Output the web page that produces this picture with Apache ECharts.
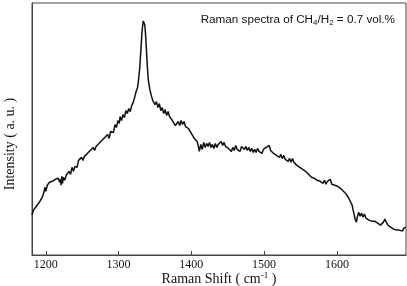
<!DOCTYPE html>
<html>
<head>
<meta charset="utf-8">
<script src="https://cdn.jsdelivr.net/npm/echarts@6/dist/echarts.min.js"></script>
<style>
  html, body { margin: 0; padding: 0; background: #fff; }
  #chart { width: 407px; height: 286px; }
</style>
</head>
<body>
<div id="chart"></div>
<script>
// Raman shift (cm-1)
var shift = [
  1181,1183,1184,1186,1187,1189,1190,1192,1194,1195,
  1197,1198,1199,1200,1202,1203,1205,1207,1209,1211,
  1213,1215,1217,1219,1220,1221,1222,1223,1224,1226,
  1228,1230,1232,1234,1236,1238,1240,1242,1243,1245,
  1247,1249,1251,1253,1255,1257,1259,1261,1263,1265,
  1267,1269,1271,1273,1275,1277,1279,1281,1283,1285,
  1287,1289,1291,1293,1295,1297,1299,1301,1302,1304,
  1306,1308,1310,1312,1314,1316,1318,1320,1322,1324,
  1326,1327,1329,1331,1332,1333,1334,1335,1336,1337,
  1338,1339,1340,1341,1343,1345,1347,1349,1350,1352,
  1354,1356,1358,1360,1362,1364,1366,1368,1370,1372,
  1374,1376,1378,1380,1382,1384,1386,1388,1390,1392,
  1394,1396,1398,1400,1402,1404,1406,1408,1410,1411,
  1413,1415,1417,1419,1421,1423,1425,1427,1429,1431,
  1433,1435,1437,1439,1441,1443,1445,1447,1449,1451,
  1453,1455,1457,1459,1461,1463,1465,1467,1469,1471,
  1473,1475,1477,1479,1481,1483,1485,1487,1489,1491,
  1493,1495,1497,1499,1501,1503,1505,1507,1509,1511,
  1513,1515,1517,1519,1521,1523,1525,1527,1529,1531,
  1533,1535,1537,1539,1541,1543,1545,1547,1549,1551,
  1553,1555,1557,1559,1561,1563,1565,1567,1569,1571,
  1573,1575,1577,1579,1581,1583,1585,1587,1589,1591,
  1593,1595,1597,1599,1601,1603,1605,1607,1609,1611,
  1613,1615,1617,1619,1621,1622,1624,1625,1627,1628,
  1630,1632,1634,1636,1638,1640,1642,1644,1646,1648,
  1650,1652,1654,1656,1658,1660,1662,1664,1666,1668,
  1670,1672,1674,1676,1678,1680,1682,1684,1686,1688,
  1690,1692,1695
];
// intensity (a.u.)
var intensity = [
  40,45,43,48,46,51,49,54,53,58,
  62,60,68,64,70,68,73,71,74,72,
  76,74,77,73,76,70,79,72,78,75,
  80,78,84,81,88,84,89,91,88,95,
  93,98,95,99,97,102,100,105,103,108,
  105,109,107,112,110,115,113,118,116,121,
  117,124,126,123,131,128,135,132,139,135,
  141,138,145,142,147,144,150,153,158,164,
  168,173,187,210,222,230,235,236,231,222,
  210,196,184,175,166,160,155,157,151,154,
  148,152,145,148,142,146,140,144,139,141,
  135,137,130,128,134,130,135,131,134,129,
  131,127,125,122,124,117,119,114,108,104,
  111,106,113,108,112,109,113,108,111,107,
  112,108,111,109,114,110,113,109,111,107,
  109,104,108,105,110,106,108,104,109,111,
  106,109,105,108,104,107,103,106,103,107,
  104,106,102,106,104,108,106,110,105,107,
  102,104,100,102,98,101,97,100,96,98,
  94,97,93,97,93,95,90,92,88,90,
  86,88,84,85,81,82,78,80,77,79,
  75,77,74,76,72,75,71,74,72,76,
  71,73,70,72,69,71,67,69,64,66,
  61,60,56,55,50,46,40,36,33,38,
  43,39,42,38,41,37,39,35,37,34,
  36,34,36,32,33,30,32,33,36,35,
  30,31,28,29,26,27,25,27,25,26,
  24,27,28
];
var tickValues = [1200, 1300, 1400, 1500, 1600];

var points = shift.map(function (x, i) { return [x, intensity[i]]; });

var chart = echarts.init(document.getElementById('chart'));
chart.setOption({
  animation: false,
  title: {
    right: 7,
    top: 8,
    text: '{a|Raman spectra of CH}{s|4}{a|/H}{s|2}{a| = 0.7 vol.%}',
    textStyle: {
      rich: {
        a: { fontFamily: 'Liberation Sans', fontSize: 11.7, fontWeight: 'normal', color: '#111', lineHeight: 14 },
        s: { fontFamily: 'Liberation Sans', fontSize: 8, fontWeight: 'normal', color: '#111', lineHeight: 14, padding: [6, 0, 0, 0] }
      }
    }
  },
  grid: {
    left: 32, right: 1, top: 3, bottom: 31,
    outerBoundsMode: 'none',
    show: true, borderColor: '#444', borderWidth: 1
  },
  xAxis: {
    type: 'value',
    min: 1181,
    max: 1695,
    name: '{n|Raman Shift ( cm}{p|-1}{n| )}',
    nameLocation: 'middle',
    nameGap: 16,
    nameMoveOverlap: false,
    nameTextStyle: {
      rich: {
        n: { fontFamily: 'Liberation Serif', fontSize: 14, color: '#111' },
        p: { fontFamily: 'Liberation Serif', fontSize: 9, color: '#111', padding: [0, 0, 8, 0] }
      }
    },
    axisLine: { lineStyle: { color: '#444', width: 1 } },
    axisTick: { inside: true, length: 4, customValues: tickValues, lineStyle: { color: '#444' } },
    axisLabel: {
      customValues: tickValues,
      margin: 4,
      formatter: function (v) { return String(v); },
      fontFamily: 'Liberation Serif', fontSize: 12, color: '#111'
    },
    splitLine: { show: false }
  },
  yAxis: {
    type: 'value',
    min: 0,
    max: 253,
    name: 'Intensity ( a. u. )',
    nameLocation: 'middle',
    nameGap: 15,
    nameMoveOverlap: false,
    nameTextStyle: { fontFamily: 'Liberation Serif', fontSize: 14, color: '#111', padding: [0, 30, 0, 0] },
    axisLine: { show: true, lineStyle: { color: '#444' } },
    axisTick: { show: false },
    axisLabel: { show: false },
    splitLine: { show: false }
  },
  series: [{
    type: 'line',
    data: points,
    showSymbol: false,
    lineStyle: { color: '#111', width: 1.5 }
  }]
});
</script>
</body>
</html>
